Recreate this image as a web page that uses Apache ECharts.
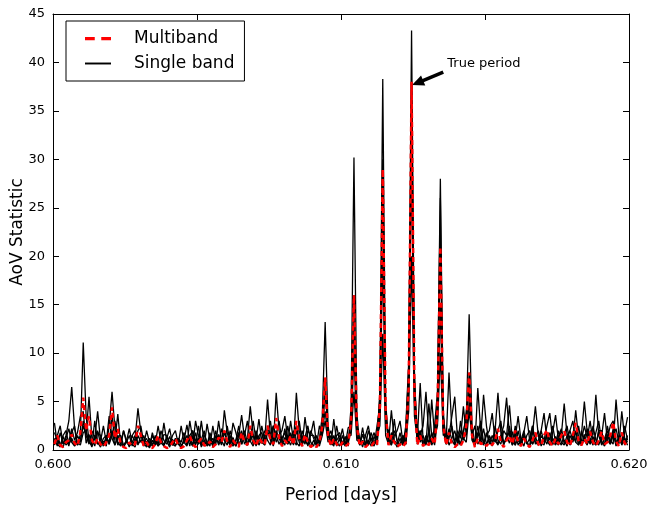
<!DOCTYPE html>
<html><head><meta charset="utf-8">
<script src="https://cdn.jsdelivr.net/npm/echarts@6/dist/echarts.min.js"></script>
<style>html,body{margin:0;padding:0;background:#fff}#c{width:652px;height:508px}</style>
</head><body><div id="c"></div>
<script>
const periods = [
0.60005,0.60015,0.60025,0.60035,0.60045,0.60055,0.60065,0.60075,0.60085,0.60095,
0.60105,0.60115,0.60125,0.60135,0.60145,0.60155,0.60165,0.60175,0.60185,0.60195,
0.60205,0.60215,0.60225,0.60235,0.60245,0.60255,0.60265,0.60275,0.60285,0.60295,
0.60305,0.60315,0.60325,0.60335,0.60345,0.60355,0.60365,0.60375,0.60385,0.60395,
0.60405,0.60415,0.60425,0.60435,0.60445,0.60455,0.60465,0.60475,0.60485,0.60495,
0.60505,0.60515,0.60525,0.60535,0.60545,0.60555,0.60565,0.60575,0.60585,0.60595,
0.60605,0.60615,0.60625,0.60635,0.60645,0.60655,0.60665,0.60675,0.60685,0.60695,
0.60705,0.60715,0.60725,0.60735,0.60745,0.60755,0.60765,0.60775,0.60785,0.60795,
0.60805,0.60815,0.60825,0.60835,0.60845,0.60855,0.60865,0.60875,0.60885,0.60895,
0.60905,0.60915,0.60925,0.60935,0.60945,0.60955,0.60965,0.60975,0.60985,0.60995,
0.61005,0.61015,0.61025,0.61035,0.61045,0.61055,0.61065,0.61075,0.61085,0.61095,
0.61105,0.61115,0.61125,0.61135,0.61145,0.61155,0.61165,0.61175,0.61185,0.61195,
0.61205,0.61215,0.61225,0.61235,0.61245,0.61255,0.61265,0.61275,0.61285,0.61295,
0.61305,0.61315,0.61325,0.61335,0.61345,0.61355,0.61365,0.61375,0.61385,0.61395,
0.61405,0.61415,0.61425,0.61435,0.61445,0.61455,0.61465,0.61475,0.61485,0.61495,
0.61505,0.61515,0.61525,0.61535,0.61545,0.61555,0.61565,0.61575,0.61585,0.61595,
0.61605,0.61615,0.61625,0.61635,0.61645,0.61655,0.61665,0.61675,0.61685,0.61695,
0.61705,0.61715,0.61725,0.61735,0.61745,0.61755,0.61765,0.61775,0.61785,0.61795,
0.61805,0.61815,0.61825,0.61835,0.61845,0.61855,0.61865,0.61875,0.61885,0.61895,
0.61905,0.61915,0.61925,0.61935,0.61945,0.61955,0.61965,0.61975,0.61985,0.61995
];

const singleA = [
1.2,0.4,1.8,0.6,1.5,3.0,6.5,2.2,0.5,1.6,
11.1,3.5,1.0,0.3,1.2,2.0,0.6,0.9,0.4,2.5,
6.0,2.2,0.5,1.1,0.3,0.8,1.5,0.4,1.2,4.3,
1.8,0.4,0.9,0.2,1.0,0.5,1.3,0.6,2.8,0.9,
0.3,1.1,0.5,0.8,0.2,1.2,0.7,1.5,0.4,3.0,
1.5,0.3,1.0,0.5,1.4,0.3,0.9,1.6,0.6,4.1,
1.8,0.5,1.3,0.4,1.1,2.0,0.6,1.2,4.5,1.6,
0.4,1.2,0.7,1.5,2.0,1.0,0.5,5.9,2.0,0.4,
1.3,0.6,1.8,0.5,2.0,0.8,0.4,3.4,1.2,0.3,
1.0,0.5,1.2,3.5,13.2,2.5,0.6,1.5,0.4,1.2,
0.6,1.3,0.4,4.5,30.2,3.8,0.5,1.6,0.7,1.0,
0.4,1.4,0.8,5.5,38.3,4.5,0.6,1.8,0.9,0.3,
1.2,0.5,1.8,8.5,43.3,7.5,0.8,2.0,0.4,1.5,
0.6,1.8,0.9,5.2,28.0,3.5,0.7,2.2,1.0,0.5,
1.4,0.6,2.0,3.2,14.0,2.5,0.5,1.8,0.8,2.2,
0.6,1.2,0.4,2.0,5.9,1.8,0.5,1.5,0.7,1.9,
0.5,1.3,0.4,1.6,0.8,0.3,1.7,4.5,1.5,0.4,
1.2,0.6,1.8,0.5,1.4,0.7,2.0,1.0,0.4,1.5,
0.8,1.9,0.5,1.6,5.0,1.8,0.6,1.4,0.5,2.0,
0.9,0.4,1.6,0.7,2.2,0.5,1.3,0.6,1.8,3.4
];
const singleB = [
2.8,0.6,0.3,1.4,0.5,0.9,2.2,1.0,1.8,3.5,
4.0,0.7,1.6,0.5,3.0,0.8,0.3,1.2,1.5,0.6,
3.5,1.0,3.7,0.6,0.4,1.0,0.3,1.5,0.8,2.0,
2.5,0.7,0.3,1.2,0.6,1.0,0.4,0.8,1.6,1.5,
0.5,1.5,2.0,0.6,0.3,1.0,2.6,0.9,0.4,1.8,
0.6,1.1,2.0,0.4,0.8,1.2,0.5,3.0,1.0,0.4,
2.5,0.7,0.4,1.0,2.5,0.6,1.4,0.5,1.2,3.0,
1.0,3.2,0.8,0.5,1.8,3.0,0.6,1.5,3.0,0.9,
0.5,2.5,1.0,0.6,5.9,2.0,0.5,1.3,2.5,0.8,
0.4,1.5,0.6,2.8,7.0,1.5,0.8,0.4,2.5,0.9,
2.2,0.5,1.0,3.0,16.0,2.5,1.2,0.3,1.5,2.5,
0.8,0.4,2.5,4.5,30.0,3.5,1.0,0.5,3.2,0.8,
0.5,1.5,0.6,7.0,38.0,6.0,1.2,6.9,1.0,0.5,
2.0,0.6,2.5,6.0,26.0,2.2,0.8,8.0,2.0,0.6,
0.5,3.0,1.0,1.8,8.0,1.5,2.5,0.6,1.2,5.7,
2.5,0.6,1.5,0.8,2.0,3.0,0.6,1.2,2.5,0.5,
1.2,3.5,1.0,0.4,1.5,2.0,0.6,1.4,0.5,2.0,
0.8,1.5,0.5,1.8,3.6,1.0,0.5,1.6,2.5,0.6,
1.5,0.8,2.5,0.5,1.2,2.2,0.6,2.5,1.0,0.5,
1.4,3.8,1.0,0.6,1.8,0.4,1.5,0.8,2.5,1.0
];
const singleC = [
0.5,1.5,2.5,0.6,1.2,0.4,1.8,2.5,0.5,1.0,
2.5,1.5,5.5,1.2,0.4,1.8,1.5,0.5,1.2,0.8,
2.0,0.5,1.4,1.5,0.5,0.9,2.2,0.6,0.3,1.5,
0.8,1.5,0.5,0.3,1.8,0.6,2.5,0.8,0.4,1.2,
2.2,0.6,0.4,1.2,0.8,1.8,0.5,3.0,1.2,0.5,
2.5,0.8,0.4,2.7,1.0,0.5,1.5,0.6,2.2,1.0,
0.5,2.0,0.8,0.4,1.5,3.6,1.2,0.5,1.8,0.6,
2.0,0.8,2.5,1.0,5.2,1.5,0.4,2.0,1.2,0.6,
2.2,0.7,3.0,1.0,0.5,3.0,0.8,1.5,0.4,2.0,
1.2,0.4,2.5,1.5,6.0,2.0,0.5,3.2,0.8,0.4,
1.5,0.6,2.3,2.5,14.0,2.0,0.6,2.3,0.5,0.8,
1.8,0.5,1.0,6.0,28.0,5.0,0.8,4.1,1.0,0.6,
1.8,0.5,2.5,9.0,36.0,8.0,0.6,1.5,2.5,6.0,
1.5,0.5,1.2,4.5,21.0,4.0,0.6,1.5,3.5,5.5,
1.0,0.5,1.6,4.0,6.0,1.2,0.5,6.4,2.0,0.6,
1.8,0.8,0.5,2.5,1.0,0.6,2.0,1.5,4.6,1.0,
0.5,2.0,0.6,1.5,0.8,0.4,2.5,0.6,1.0,2.0,
3.8,1.0,0.5,1.2,0.6,2.0,0.8,0.5,1.5,2.0,
1.0,4.1,1.2,0.5,1.6,0.6,1.2,0.5,1.8,3.0,
0.8,0.5,2.5,1.0,0.6,5.2,1.5,0.5,1.2,0.8
];
const singleD = [
1.8,1.0,0.4,1.5,2.0,0.6,1.2,0.5,1.5,0.8,
3.0,1.5,0.6,2.0,1.2,4.0,1.0,0.4,1.5,0.6,
1.5,3.0,0.8,0.4,2.0,0.8,0.5,1.5,2.0,0.6,
1.0,0.5,2.0,0.8,0.4,1.5,0.6,1.2,0.5,1.4,
0.8,0.5,1.2,0.6,2.5,0.8,0.4,1.5,2.0,0.6,
1.2,0.5,1.6,0.8,0.4,2.5,0.8,1.5,0.5,1.8,
0.9,1.5,0.5,1.0,1.8,0.6,1.5,3.0,0.9,0.4,
1.6,0.5,1.2,2.0,1.0,0.5,2.5,1.5,0.6,1.2,
1.8,0.6,1.2,2.0,0.8,0.4,2.0,1.0,0.5,1.6,
3.0,0.6,0.9,2.0,4.0,1.2,2.0,0.6,1.5,1.8,
0.5,1.4,0.8,2.0,10.0,1.5,0.5,1.0,0.4,2.0,
1.0,1.8,0.5,3.5,20.0,2.5,2.0,0.5,1.5,2.0,
3.0,0.8,0.6,6.0,30.0,5.0,2.5,0.8,1.5,0.6,
4.8,1.5,0.5,3.0,15.0,2.0,0.6,1.2,2.5,0.8,
2.0,1.2,4.5,1.5,5.0,1.0,0.5,1.5,3.0,0.8,
0.5,1.5,0.8,1.4,0.6,1.5,2.5,5.4,1.5,0.6,
1.8,0.5,1.0,2.0,0.6,1.2,2.5,0.8,0.5,1.5,
1.0,2.5,3.8,1.0,0.5,1.4,2.2,0.6,1.0,2.0,
3.0,0.8,0.5,2.0,1.0,0.5,2.0,1.5,5.7,1.5,
0.5,1.2,2.0,0.6,1.5,2.2,0.8,1.8,0.5,1.5
];
const singleE = [
1.0,1.5,0.6,0.3,1.2,2.2,0.8,0.4,0.8,0.5,
1.8,2.0,0.8,0.5,1.5,0.6,0.9,2.5,0.8,3.5,
1.2,0.5,1.5,0.7,2.0,1.0,0.4,0.8,1.5,0.5,
1.5,0.8,1.2,0.4,1.5,0.8,0.5,2.0,1.0,0.6,
1.4,0.5,1.0,1.2,0.5,0.8,1.5,0.4,2.0,1.0,
0.6,3.0,0.8,0.5,1.8,0.6,2.0,0.5,1.2,2.0,
1.0,0.5,2.8,1.8,0.6,1.2,2.0,0.7,1.0,1.5,
0.6,1.5,1.8,0.5,2.5,1.5,2.5,0.8,1.5,2.0,
3.5,1.2,0.5,1.5,2.5,1.0,1.5,0.6,2.0,1.5,
1.5,0.8,0.4,1.5,3.0,0.8,1.5,0.6,1.0,1.5,
0.8,0.4,1.5,1.5,6.0,1.0,0.8,1.6,1.5,0.5,
1.2,0.6,1.5,2.5,12.0,1.5,0.6,1.2,2.0,1.0,
0.5,1.5,0.6,4.0,20.0,3.5,1.0,2.0,0.5,1.2,
0.8,5.2,1.5,2.5,10.0,1.5,1.8,0.5,1.2,2.0,
0.6,2.0,1.2,0.8,4.0,1.5,0.6,2.5,1.0,0.5,
1.5,2.0,3.8,1.0,0.5,1.5,0.8,1.0,2.0,0.5,
2.5,1.0,0.5,1.8,3.5,1.0,0.6,1.2,2.0,0.8,
0.5,1.8,1.0,2.5,0.8,0.5,1.5,4.8,1.5,0.5,
1.2,2.0,0.6,1.0,2.5,1.2,3.0,0.8,0.5,2.0,
2.0,0.5,1.2,2.5,3.0,1.0,0.6,4.0,1.2,0.5
];
const multiband = [
0.6,1.5,0.5,0.3,0.8,1.0,1.6,0.7,0.4,1.8,
5.4,2.0,3.5,1.0,0.5,1.2,0.6,0.3,0.8,1.5,
4.4,1.2,2.2,0.6,0.3,0.2,0.8,0.4,0.6,2.5,
1.5,0.4,0.8,0.3,0.2,0.6,1.5,0.8,0.4,0.2,
0.3,0.8,1.2,0.5,0.2,0.4,1.0,1.5,0.6,0.3,
0.8,1.2,0.5,0.4,0.9,0.3,0.6,1.3,0.8,2.0,
0.9,0.3,1.0,0.6,0.3,1.8,0.8,0.5,2.5,1.0,
0.4,1.3,0.8,0.5,2.5,1.0,0.6,3.3,1.2,0.4,
1.0,0.6,1.5,0.5,3.0,1.2,0.4,1.6,0.8,0.3,
0.6,0.3,0.8,2.5,7.5,1.5,0.4,1.2,0.6,0.3,
0.8,0.4,0.6,3.0,16.0,2.5,0.4,0.9,0.3,0.6,
0.4,0.8,0.5,4.5,29.0,4.0,0.5,1.5,0.8,0.3,
0.6,0.3,0.8,6.5,38.0,6.0,0.5,1.5,0.4,0.8,
0.5,1.2,0.6,4.0,21.0,2.5,0.5,1.8,0.6,0.3,
0.6,0.4,1.0,2.5,8.0,1.5,0.3,1.2,0.6,0.8,
0.4,0.8,0.5,1.0,2.2,0.8,0.3,1.0,1.5,0.6,
2.0,0.8,0.4,1.2,0.6,0.3,1.0,1.8,0.6,0.4,
1.5,2.1,0.8,0.4,1.2,0.6,1.5,2.0,0.8,0.4,
1.5,2.8,0.9,0.5,1.2,0.6,1.9,0.8,0.4,1.0,
1.9,0.6,0.8,1.5,2.9,0.9,0.4,1.8,0.7,0.5
];
const singleBands = [singleA, singleB, singleC, singleD, singleE];
const xTicks = { min: 0.600, max: 0.620, interval: 0.005 };
const yTicks = { min: 0, max: 45, interval: 5 };
const arrowHead = [0.61266, 37.9];
const arrowTail = [0.61355, 39.0];

const FONT = 'DejaVu Sans';
const pair = v => v.map((y, i) => [periods[i], y]);

const series = singleBands.map(b => ({
  name: 'Single band', type: 'line', data: pair(b), symbol: 'none', smooth: false,
  lineStyle: { color: '#000', width: 1.3 }, itemStyle: { color: '#000' }, silent: true, animation: false
}));
series.push({
  name: 'Multiband', type: 'line', data: pair(multiband), symbol: 'none', smooth: false,
  lineStyle: { color: '#ff0000', width: 2.5, type: [5, 4] }, itemStyle: { color: '#ff0000' },
  silent: true, animation: false, z: 5
});
// annotation: arrow + text
series.push({
  name: 'annotation', type: 'line', data: [], silent: true, animation: false, z: 6,
  markLine: {
    silent: true, animation: false, symbol: ['none', 'triangle'], symbolSize: [11, 12],
    lineStyle: { color: '#000', width: 3.5, type: 'solid', opacity: 1 },
    itemStyle: { color: '#000' },
    label: { show: false }, emphasis: { disabled: true },
    data: [[{ coord: arrowTail }, { coord: arrowHead }]]
  },
  markPoint: {
    silent: true, animation: false, symbol: 'circle', symbolSize: 0,
    data: [{ coord: [arrowTail[0] + 0.00014, arrowTail[1] + 0.9] }],
    label: { show: true, formatter: 'True period', position: 'right', distance: 0,
      color: '#000', fontFamily: FONT, fontSize: 13 }
  }
});

const tickCommon = { inside: true, length: 6, lineStyle: { color: '#000', width: 1 } };
const option = {
  backgroundColor: '#fff',
  animation: false,
  grid: { left: 53, right: 23, top: 14, bottom: 58, containLabel: false, outerBoundsMode: 'none' },
  legend: {
    data: [
      { name: 'Multiband', icon: 'path://M0,0h9v3h-9z M15,0h9v3h-9z', itemStyle: { color: '#ff0000' } },
      { name: 'Single band', icon: 'path://M0,0h27v2h-27z', itemStyle: { color: '#000' } }
    ],
    orient: 'vertical', left: 66, top: 21,
    borderColor: '#000', borderWidth: 1, borderRadius: 0, padding: [9, 10, 9, 19],
    itemWidth: 26, itemHeight: 14, itemGap: 8, backgroundColor: '#fff',
    textStyle: { fontFamily: FONT, fontSize: 17, color: '#000', padding: [0, 0, 0, 18] }
  },
  xAxis: [
    { type: 'value', position: 'bottom', min: xTicks.min, max: xTicks.max, interval: xTicks.interval,
      name: 'Period [days]', nameLocation: 'middle', nameGap: 37,
      nameTextStyle: { fontFamily: FONT, fontSize: 17, color: '#000' },
      axisLine: { show: true, onZero: false, lineStyle: { color: '#000', width: 1 } },
      axisTick: tickCommon, splitLine: { show: false },
      axisLabel: { fontFamily: FONT, fontSize: 13, color: '#000', margin: 8,
        showMinLabel: true, showMaxLabel: true, formatter: v => v.toFixed(3) } },
    { type: 'value', position: 'top', min: xTicks.min, max: xTicks.max, interval: xTicks.interval,
      axisLine: { show: true, onZero: false, lineStyle: { color: '#000', width: 1 } },
      axisTick: tickCommon, splitLine: { show: false }, axisLabel: { show: false } }
  ],
  yAxis: [
    { type: 'value', position: 'left', min: yTicks.min, max: yTicks.max, interval: yTicks.interval,
      name: 'AoV Statistic', nameLocation: 'middle', nameGap: 27, nameRotate: 90, nameMoveOverlap: false,
      nameTextStyle: { fontFamily: FONT, fontSize: 17, color: '#000' },
      axisLine: { show: true, onZero: false, lineStyle: { color: '#000', width: 1 } },
      axisTick: tickCommon, splitLine: { show: false },
      axisLabel: { fontFamily: FONT, fontSize: 13, color: '#000', margin: 8 } },
    { type: 'value', position: 'right', min: yTicks.min, max: yTicks.max, interval: yTicks.interval,
      axisLine: { show: true, onZero: false, lineStyle: { color: '#000', width: 1 } },
      axisTick: tickCommon, splitLine: { show: false }, axisLabel: { show: false } }
  ],
  series: series
};
const chart = echarts.init(document.getElementById('c'), null, { renderer: 'canvas' });
chart.setOption(option);
</script></body></html>
